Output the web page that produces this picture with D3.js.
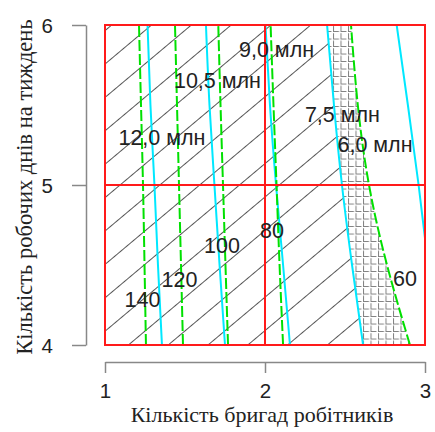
<!DOCTYPE html>
<html><head><meta charset="utf-8">
<script src="https://cdn.jsdelivr.net/npm/d3@7"></script>
<style>body{margin:0;background:#fff}svg{display:block}</style>
</head><body>
<svg id="chart" width="435" height="432"></svg>
<script>
// ---- data ----
const xTicks = [1, 2, 3];
const yTicks = [4, 5, 6];
const yLevels = [4, 4.5, 5, 5.5, 6];
// cost contours (cyan), x-position at each y level
const costLabels = ["12,0 млн", "10,5 млн", "9,0 млн", "7,5 млн", "6,0 млн"];
const costX = [
  [1.356, 1.331, 1.309, 1.284, 1.266],
  [1.750, 1.716, 1.684, 1.653, 1.631],
  [2.156, 2.113, 2.069, 2.031, 2.003],
  [2.613, 2.544, 2.481, 2.431, 2.388],
  [3.085, 3.020, 2.960, 2.893, 2.823]
];
const costLabelPos = [[1.356, 5.25], [1.703, 5.606], [2.072, 5.80], [2.484, 5.394], [2.6875, 5.206]];
// time contours (green dashed)
const timeLabels = ["140", "120", "100", "80", "60"];
const timeX = [
  [1.256, 1.247, 1.2375, 1.225, 1.2125],
  [1.4875, 1.475, 1.4625, 1.450, 1.4375],
  [1.769, 1.753, 1.7375, 1.722, 1.708],
  [2.113, 2.091, 2.072, 2.053, 2.035],
  [2.906, 2.7625, 2.650, 2.580, 2.5375]
];
const timeLabelPos = [[1.234, 4.2375], [1.466, 4.3625], [1.731, 4.575], [2.044, 4.669], [2.875, 4.369]];
const xTitle = "Кількість бригад робітників";
const yTitle = "Кількість робочих днів на тиждень";

// ---- layout ----
const svg = d3.select("#chart");
const x = d3.scaleLinear().domain([1, 3]).range([105, 425]);
const y = d3.scaleLinear().domain([4, 6]).range([345, 25]);
const line = d3.line().x(d => x(d[0])).y(d => y(d[1])).curve(d3.curveNatural);
const pts = arr => arr.map((v, i) => [v, yLevels[i]]);

const defs = svg.append("defs");
defs.append("clipPath").attr("id", "plotclip").append("rect")
  .attr("x", x(1)).attr("y", y(6)).attr("width", x(3) - x(1)).attr("height", y(4) - y(6));

// diagonal hatch pattern
const sp = 33.4 * Math.cos(40 * Math.PI / 180);
const pd = defs.append("pattern").attr("id", "diag").attr("patternUnits", "userSpaceOnUse")
  .attr("width", 20).attr("height", sp)
  .attr("patternTransform", `translate(${x(1)},30) rotate(-40)`);
pd.append("line").attr("x1", 0).attr("x2", 20).attr("y1", 0.5).attr("y2", 0.5)
  .attr("stroke", "#555").attr("stroke-width", 1);
// grid hatch pattern
const gs = 7.5;
const pg = defs.append("pattern").attr("id", "grid").attr("patternUnits", "userSpaceOnUse")
  .attr("width", gs).attr("height", gs)
  .attr("patternTransform", `translate(333,287)`);
pg.append("path").attr("d", `M0.5,1.2 V${gs - 0.5} H${gs - 1.5}`)
  .attr("fill", "none").attr("stroke", "#808080").attr("stroke-width", 1);

const plot = svg.append("g").attr("clip-path", "url(#plotclip)");

// regions
const c4 = pts(costX[3]);           // y from 4 to 6
const g5rev = pts(timeX[4]).slice().reverse(); // y from 6 to 4
const c4path = line(c4);
const diagPath = `M${x(1)},${y(4)}` + c4path.replace(/^M/, "L") + `L${x(1)},${y(6)}Z`;
plot.append("path").attr("d", diagPath).attr("fill", "url(#diag)");
const gridPath = c4path + line(g5rev).replace(/^M/, "L") + "Z";
plot.append("path").attr("d", gridPath).attr("fill", "url(#grid)");

// cost contours
plot.selectAll(".cost").data(costX).join("path").attr("class", "cost")
  .attr("d", d => line(pts(d))).attr("fill", "none")
  .attr("stroke", "#00e8ff").attr("stroke-width", 2);
// time contours
plot.selectAll(".time").data(timeX).join("path").attr("class", "time")
  .attr("d", d => line(pts(d))).attr("fill", "none")
  .attr("stroke", "#00e000").attr("stroke-width", 2).attr("stroke-dasharray", "11,3");

// red frame + grid
const red = svg.append("g").attr("stroke", "#ff1a1a").attr("stroke-width", 2).attr("fill", "none");
red.append("rect").attr("x", x(1)).attr("y", y(6)).attr("width", x(3) - x(1)).attr("height", y(4) - y(6));
red.append("line").attr("x1", x(2)).attr("x2", x(2)).attr("y1", y(6)).attr("y2", y(4));
red.append("line").attr("x1", x(1)).attr("x2", x(3)).attr("y1", y(5)).attr("y2", y(5));

// labels
const lab = svg.append("g").attr("font-family", "'Liberation Sans', Arial, sans-serif")
  .attr("font-size", 21.5).attr("fill", "#222").attr("text-anchor", "middle");
lab.selectAll(".cl").data(costLabels).join("text").attr("class", "cl")
  .attr("x", (d, i) => x(costLabelPos[i][0])).attr("y", (d, i) => y(costLabelPos[i][1])).text(d => d);
lab.selectAll(".tl").data(timeLabels).join("text").attr("class", "tl")
  .attr("x", (d, i) => x(timeLabelPos[i][0])).attr("y", (d, i) => y(timeLabelPos[i][1])).text(d => d);

// axes
const xAxis = d3.axisBottom(x).tickValues(xTicks).tickSize(11).tickFormat(d3.format("d")).tickSizeOuter(0);
const gx = svg.append("g").attr("transform", "translate(0,362)").call(xAxis);
const yAxis = d3.axisLeft(y).tickValues(yTicks).tickSize(14).tickFormat(d3.format("d")).tickSizeOuter(0);
const gy = svg.append("g").attr("transform", "translate(86,0)").call(yAxis);
[gx, gy].forEach(g => {
  g.select(".domain").attr("stroke", "#888").attr("stroke-width", 1.5);
  g.selectAll(".tick line").attr("stroke", "#888").attr("stroke-width", 1.5);
  g.selectAll(".tick text").attr("font-family", "'Liberation Sans', Arial, sans-serif")
    .attr("font-size", 20.5).attr("fill", "#222");
});
gx.selectAll(".tick text").attr("dy", null).attr("y", 36);
gy.selectAll(".tick text").attr("x", -33).attr("text-anchor", "end").attr("dy", "0.36em");

svg.append("text").attr("x", 262).attr("y", 422).attr("text-anchor", "middle")
  .attr("font-family", "'Liberation Serif', 'Times New Roman', serif").attr("font-size", 22)
  .attr("fill", "#222").text(xTitle);
svg.append("text").attr("transform", "translate(32,187) rotate(-90)").attr("text-anchor", "middle")
  .attr("font-family", "'Liberation Serif', 'Times New Roman', serif").attr("font-size", 22.5)
  .attr("fill", "#222").text(yTitle);
</script>
</body></html>
